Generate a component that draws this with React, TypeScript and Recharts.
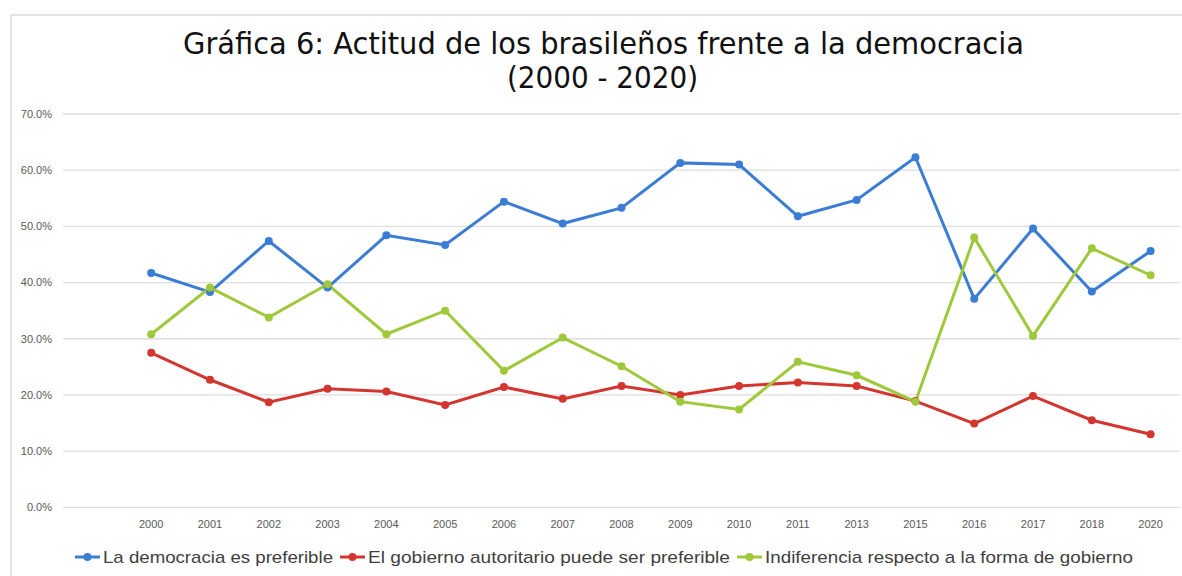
import React from 'react';
import { LineChart, Line, XAxis, YAxis, CartesianGrid } from 'recharts';

const years = ['2000', '2001', '2002', '2003', '2004', '2005', '2006', '2007', '2008', '2009', '2010', '2011', '2013', '2015', '2016', '2017', '2018', '2020'];
const democracia = [41.7, 38.3, 47.4, 39.1, 48.4, 46.7, 54.4, 50.5, 53.3, 61.3, 61.0, 51.8, 54.7, 62.3, 37.1, 49.6, 38.4, 45.6];
const autoritario = [27.5, 22.7, 18.7, 21.1, 20.6, 18.2, 21.4, 19.3, 21.6, 20.0, 21.6, 22.2, 21.6, 18.9, 14.9, 19.8, 15.5, 13.0];
const indiferencia = [30.8, 39.1, 33.8, 39.7, 30.8, 35.0, 24.3, 30.2, 25.1, 18.8, 17.4, 25.9, 23.5, 18.8, 48.0, 30.5, 46.1, 41.3];
const yTicks = [0, 10, 20, 30, 40, 50, 60, 70];
const seriesNames = ['La democracia es preferible', 'El gobierno autoritario puede ser preferible', 'Indiferencia respecto a la forma de gobierno'];
const titleLines = ['Gráfica 6: Actitud de los brasileños frente a la democracia', '(2000 - 2020)'];

const BLUE = '#3B7DD4';
const RED = '#D3362F';
const GREEN = '#9FC83A';
const colors = [BLUE, RED, GREEN];

const data = years.map((y, i) => ({
  year: y,
  democracia: democracia[i],
  autoritario: autoritario[i],
  indiferencia: indiferencia[i],
}));

const FONT = '"Liberation Sans", Arial, sans-serif';

const legendItems = [
  { x: 75, textX: 103, len: 230 },
  { x: 340, textX: 368, len: 362 },
  { x: 737, textX: 765, len: 368 },
];

export default function App() {
  return (
    <div style={{ position: 'absolute', left: 0, top: 0, width: 1182, height: 576, background: '#fff', overflow: 'hidden' }}>
      <div style={{ position: 'absolute', left: 10, top: 14, width: 1180, height: 570, borderLeft: '2px solid #e3e3e3', borderTop: '2px solid #e3e3e3' }} />
      <svg style={{ position: 'absolute', left: 0, top: 0 }} width={1182} height={110}>
        <text x={603.5} y={54} textAnchor="middle" fontFamily='"DejaVu Sans", sans-serif' fontSize={31} fill="#111" textLength={841} lengthAdjust="spacingAndGlyphs">{titleLines[0]}</text>
        <text x={602.5} y={88} textAnchor="middle" fontFamily='"DejaVu Sans", sans-serif' fontSize={31} fill="#111" textLength={191} lengthAdjust="spacingAndGlyphs">{titleLines[1]}</text>
      </svg>
      <div style={{ position: 'absolute', left: 0, top: 0 }}>
        <LineChart width={1182} height={576} data={data} margin={{ top: 114, right: 2, bottom: 38.7, left: 8 }}>
          <CartesianGrid vertical={false} stroke="#dedede" strokeWidth={1.3} />
          <XAxis
            dataKey="year"
            padding={{ left: 88.2, right: 29.4 }}
            axisLine={false}
            tickLine={false}
            tickMargin={7}
            height={30}
            interval={0}
            tick={{ fill: '#595959', fontSize: 11, fontFamily: FONT }}
          />
          <YAxis
            domain={[0, 70]}
            ticks={yTicks}
            width={55}
            axisLine={false}
            tickLine={false}
            tickMargin={5}
            tickFormatter={(v: number) => `${v.toFixed(1)}%`}
            tick={{ fill: '#595959', fontSize: 11, fontFamily: FONT }}
          />
          <Line dataKey="democracia" name={seriesNames[0]} stroke={BLUE} strokeWidth={3} dot={{ r: 4, fill: BLUE, stroke: BLUE, strokeWidth: 0 }} isAnimationActive={false} />
          <Line dataKey="autoritario" name={seriesNames[1]} stroke={RED} strokeWidth={3} dot={{ r: 4, fill: RED, stroke: RED, strokeWidth: 0 }} isAnimationActive={false} />
          <Line dataKey="indiferencia" name={seriesNames[2]} stroke={GREEN} strokeWidth={3} dot={{ r: 4, fill: GREEN, stroke: GREEN, strokeWidth: 0 }} isAnimationActive={false} />
        </LineChart>
      </div>
      <svg style={{ position: 'absolute', left: 0, top: 540 }} width={1182} height={36}>
        {legendItems.map((it, i) => (
          <g key={i}>
            <line x1={it.x} x2={it.x + 25} y1={17} y2={17} stroke={colors[i]} strokeWidth={3} />
            <circle cx={it.x + 12.5} cy={17} r={4} fill={colors[i]} />
            <text x={it.textX} y={23} fontFamily={FONT} fontSize={17} fill="#404040" textLength={it.len} lengthAdjust="spacingAndGlyphs">{seriesNames[i]}</text>
          </g>
        ))}
      </svg>
    </div>
  );
}
